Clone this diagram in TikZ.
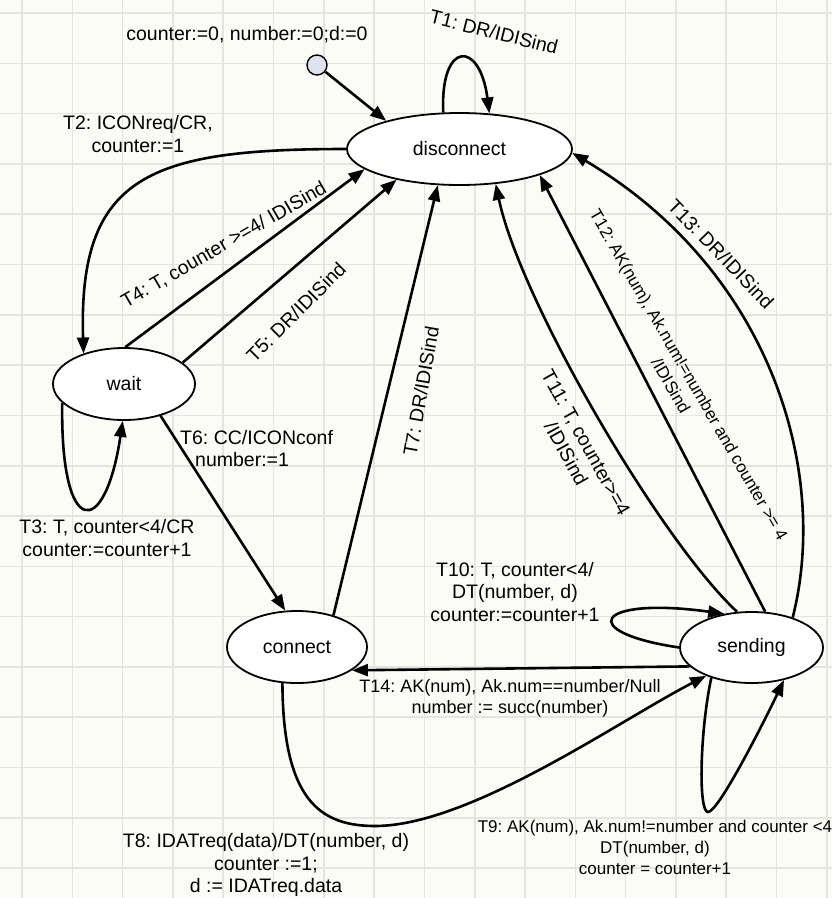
\documentclass[tikz,border=0pt]{standalone}
\usepackage{fontspec}
\setmainfont{Liberation Sans}
\usetikzlibrary{arrows.meta,shapes.geometric}
\frenchspacing

\definecolor{paper}{RGB}{252,252,247}
\definecolor{gridline}{RGB}{228,228,224}
\definecolor{startfill}{RGB}{221,228,240}

\newcommand\fmain{\fontsize{19.5}{22.5}\selectfont}
\newcommand\fsmall{\fontsize{17}{21}\selectfont}
\newcommand\fmid{\fontsize{18}{21}\selectfont}

\tikzset{
  state/.style={ellipse, draw, line width=1.8pt, fill=white, inner sep=0pt, font=\fmain},
  trans/.style={line width=2.6pt, -{Triangle[length=16pt,width=12pt]}},
  lbl/.style={font=\fmain, align=center, inner sep=0pt},
  lblsmall/.style={font=\fsmall, align=center, inner sep=0pt},
  lblmid/.style={font=\fmid, align=center, inner sep=0pt},
}

\begin{document}
\begin{tikzpicture}[x=1pt, y=-1pt]
  % sheet and grid
  \fill[paper] (0,0) rectangle (832,898);
  \useasboundingbox (0,0) rectangle (832,898);
  \foreach \i in {0,...,16}
    \draw[gridline, line width=1.6pt] ({22+50.3*\i},0) -- ({22+50.3*\i},898);
  \foreach \j in {0,...,17}
    \draw[gridline, line width=1.6pt] (0,{13+50.3*\j}) -- (832,{13+50.3*\j});

  % states
  \node[state, minimum width=225pt, minimum height=72pt] (disconnect) at (459.5,149) {disconnect};
  \node[state, minimum width=142pt, minimum height=72pt] (wait) at (124,384) {wait};
  \node[state, minimum width=140pt, minimum height=72pt] (connect) at (297,647) {connect};
  \node[state, minimum width=143pt, minimum height=71pt] (sending) at (751.5,647.5) {sending};
  \node[circle, draw, line width=1.4pt, fill=startfill, minimum size=20pt, inner sep=0pt] (init) at (317,65) {};

  % initial transition
  \node[lbl] (initlbl) at (247,35) {counter:=0, number:=0;d:=0};
  \draw[trans] (init) -- (disconnect.159);

  % T1
  \draw[trans] (disconnect.114.6) .. controls (440,40) and (480,40) .. (disconnect.50.7);
  \node[lbl, rotate=-14] (t1) at (494,32) {T1: DR/IDISind};

  % T2
  \draw[trans] (disconnect.180) .. controls (150,149) and (78,175) .. (wait.143.3);
  \node[lbl] (t2) at (138,134) {T2: ICONreq/CR,\\counter:=1};

  % T3
  \draw[trans] (wait.197.9) .. controls (60,540) and (105,540) .. (wait.268.5);
  \node[lbl] (t3) at (107,538) {T3: T, counter<4/CR\\counter:=counter+1};

  % T4 and T5
  \draw[trans] (wait.88.5) -- (disconnect.192.8);
  \node[lbl, rotate=30] (t4) at (224,245) {T4: T, counter >=4/ IDISind};
  \draw[trans] (wait.20.4) -- (disconnect.206.7);
  \node[lbl, rotate=45] (t5) at (296,312) {T5: DR/IDISind};

  % T6
  \draw[trans] (wait.319.3) -- (connect.108);
  \node[lbl, align=left, anchor=west] (t6) at (180,448.5) {T6: CC/ICONconf\\\hspace*{15pt}number:=1};

  % T7
  \draw[trans] (connect.41.8) -- (disconnect.239.4);
  \node[lbl, rotate=80] (t7) at (421,391) {T7: DR/IDISind};

  % T8
  \draw[trans] (connect.248.7) .. controls (283,800) and (320,826) .. (375,826)
               .. controls (470,826) and (620,720) .. (sending.212.4);
  \node[lbl] (t8) at (266,865) {T8: IDATreq(data)/DT(number, d)\\counter :=1;\\d := IDATreq.data};

  % T9
  \draw[trans] (sending.217.7) .. controls (700,730) and (698,812) .. (708,812)
               .. controls (718,812) and (760,730) .. (sending.315.8);
  \node[lblsmall] (t9) at (655,847) {T9: AK(num), Ak.num!=number and counter <4\\DT(number, d)\\counter = counter+1};

  % T10
  \draw[trans] (sending.180) .. controls (575,632) and (595,596) .. (sending.129.6);
  \node[lbl] (t10) at (515,592) {T10: T, counter<4/\\DT(number, d)\\counter:=counter+1};

  % T11
  \draw[trans] (sending.112.2) .. controls (660,540) and (520,300) .. (disconnect.316.8);
  \node[lbl, rotate=-61] (t11) at (576,448) {T11: T, counter>=4\\/IDISind};

  % T12
  \draw[trans] (sending.69.2) -- (disconnect.342.3);
  \node[lblsmall, rotate=-60] (t12) at (680,380) {T12: AK(num), Ak.num!=number and counter >= 4\\/IDISind};

  % T13
  \draw[trans] (sending.36.3) .. controls (830,470) and (770,270) .. (disconnect.358.5);
  \node[lbl, rotate=-46] (t13) at (721,254) {T13: DR/IDISind};

  % T14
  \draw[trans] (sending.197.9) -- (connect.337.7);
  \node[lblmid] (t14) at (510,698.5) {T14: AK(num), Ak.num==number/Null\\number := succ(number)};
\end{tikzpicture}
\end{document}
